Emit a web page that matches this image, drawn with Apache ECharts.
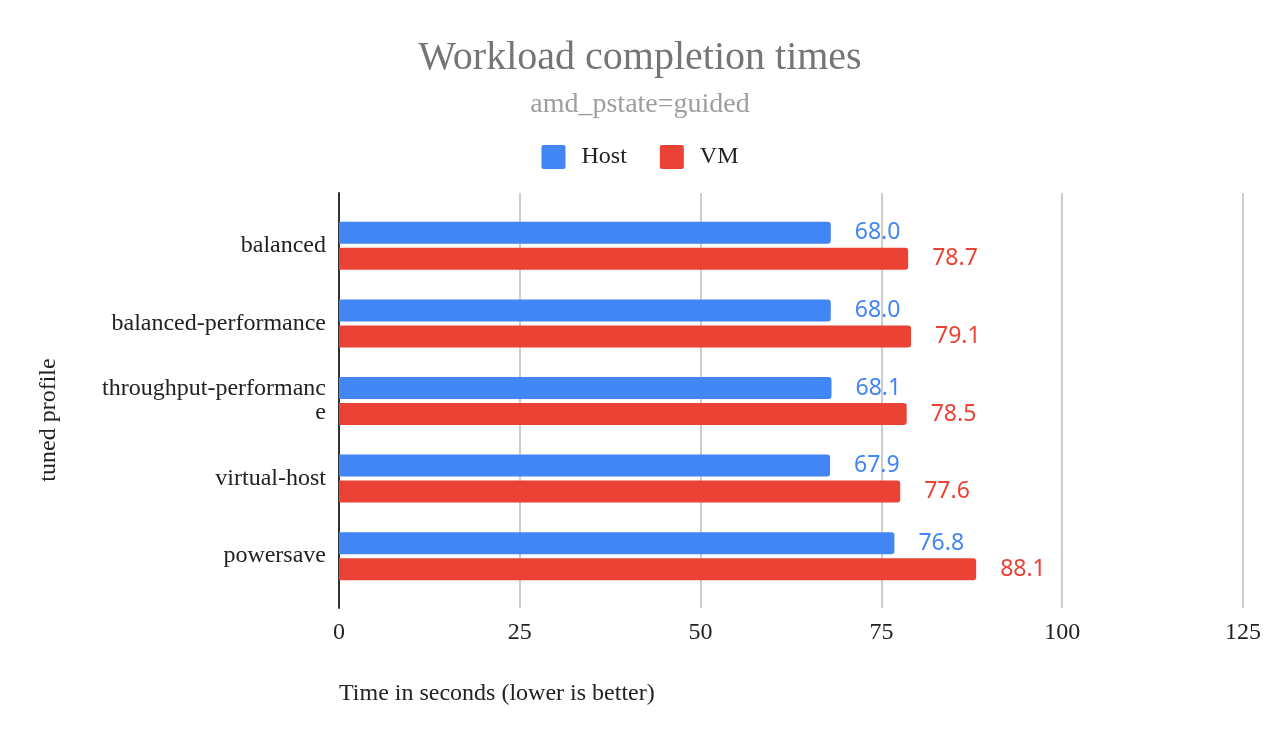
<!DOCTYPE html>
<html>
<head>
<meta charset="utf-8">
<script src="https://cdn.jsdelivr.net/npm/echarts@6/dist/echarts.min.js"></script>
<style>html,body{margin:0;padding:0;background:#fff}#c{width:1280px;height:742px}</style>
</head>
<body>
<div id="c"></div>
<script>
const categories = ['balanced', 'balanced-performance', 'throughput-performance', 'virtual-host', 'powersave'];
const hostValues = [68.0, 68.0, 68.1, 67.9, 76.8];
const vmValues = [78.7, 79.1, 78.5, 77.6, 88.1];
const xTicks = [0, 25, 50, 75, 100, 125];

const serif = '"Liberation Serif", "DejaVu Serif", serif';
const sans = '"Noto Sans", "Open Sans", sans-serif';
const blue = '#4285F4', red = '#EA4335';
const sq = 'path://M2,0H22A2,2 0 0 1 24,2V22A2,2 0 0 1 22,24H2A2,2 0 0 1 0,22V2A2,2 0 0 1 2,0Z';

const chart = echarts.init(document.getElementById('c'));
chart.setOption({
  backgroundColor: '#fff',
  animation: false,
  title: [
    { text: 'Workload completion times', left: 'center', top: 33,
      textStyle: { fontFamily: serif, fontSize: 40, fontWeight: 'normal', color: '#757575' } },
    { text: 'amd_pstate=guided', left: 'center', top: 86,
      textStyle: { fontFamily: serif, fontSize: 28, fontWeight: 'normal', color: '#9e9e9e' } },
    { text: 'Time in seconds (lower is better)', left: 334, top: 677,
      textStyle: { fontFamily: serif, fontSize: 24, fontWeight: 'normal', color: '#222' } }
  ],
  legend: {
    top: 140, left: 'center', itemWidth: 24, itemHeight: 24, itemGap: 33,
    textStyle: { fontFamily: serif, fontSize: 24, color: '#222', padding: [0, 0, 0, 11] },
    data: [{ name: 'Host', icon: sq }, { name: 'VM', icon: sq }]
  },
  grid: [
    { left: 339, right: 37, top: 207, height: 388, containLabel: false },
    { left: 339, right: 37, top: 193, height: 415, containLabel: false }
  ],
  xAxis: [
    { gridIndex: 0, type: 'value', min: 0, max: 125, interval: 25,
      axisLine: { show: false }, axisTick: { show: false }, splitLine: { show: false },
      axisLabel: { show: false } },
    { gridIndex: 1, type: 'value', min: 0, max: 125, interval: 25,
      axisLine: { show: false }, axisTick: { show: false },
      splitLine: { show: true, lineStyle: { color: '#cccccc', width: 2 } },
      axisLabel: { margin: 13, fontFamily: serif, fontSize: 24, color: '#222',
        formatter: v => xTicks.includes(v) ? String(v) : '' } }
  ],
  yAxis: [
    { gridIndex: 0, type: 'category', inverse: true, data: categories,
      axisLine: { show: false }, axisTick: { show: false },
      axisLabel: { margin: 13, fontFamily: serif, fontSize: 24, color: '#222',
        width: 228, overflow: 'breakAll', lineHeight: 24, align: 'right' },
      name: 'tuned profile', nameLocation: 'middle', nameGap: 278, nameRotate: 90,
      nameTextStyle: { fontFamily: serif, fontSize: 24, color: '#222', padding: [0, 0, 0, -38] } },
    { gridIndex: 1, type: 'category', data: [''],
      axisLine: { show: true, lineStyle: { color: '#333', width: 2 } },
      axisTick: { show: false }, axisLabel: { show: false } }
  ],
  series: [
    { name: 'Host', type: 'bar', xAxisIndex: 0, yAxisIndex: 0, data: hostValues,
      barWidth: 22, barGap: '18%', itemStyle: { color: blue, borderRadius: [0, 3, 3, 0] },
      label: { show: true, position: 'right', distance: 24, fontFamily: sans, fontSize: 23,
        color: blue, formatter: p => p.value.toFixed(1) } },
    { name: 'VM', type: 'bar', xAxisIndex: 0, yAxisIndex: 0, data: vmValues,
      barWidth: 22, barGap: '18%', itemStyle: { color: red, borderRadius: [0, 3, 3, 0] },
      label: { show: true, position: 'right', distance: 24, fontFamily: sans, fontSize: 23,
        color: red, formatter: p => p.value.toFixed(1) } }
  ]
});
</script>
</body>
</html>
